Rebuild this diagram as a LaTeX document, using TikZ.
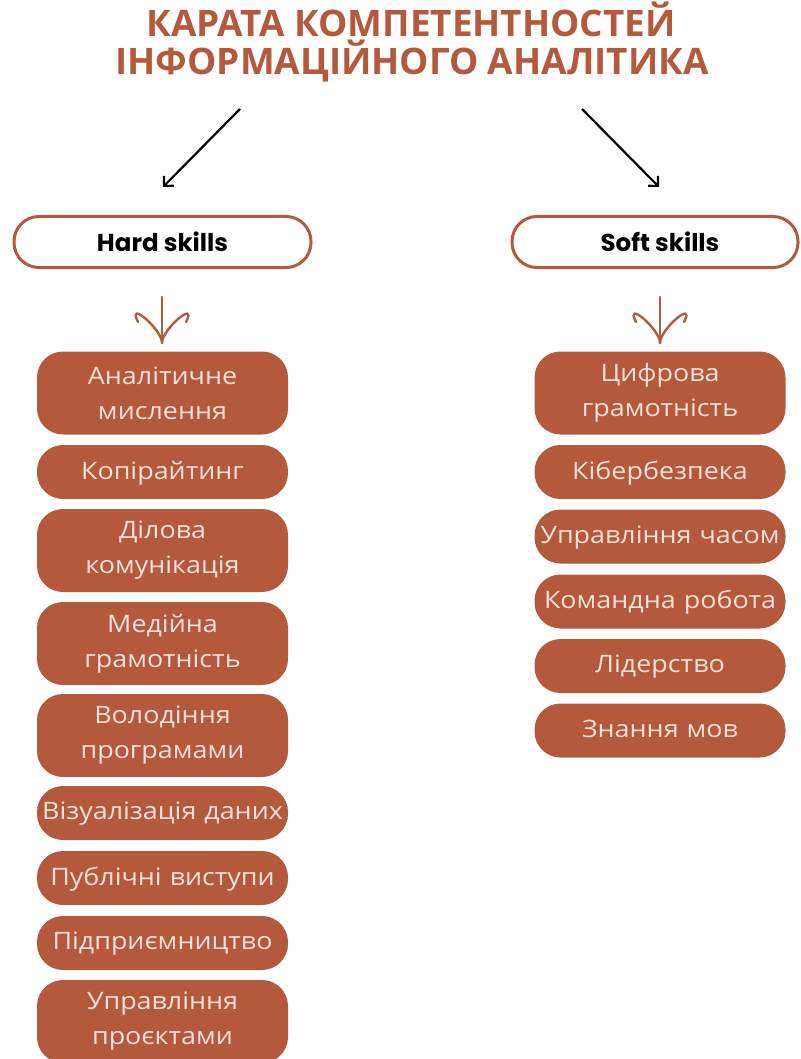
\documentclass[tikz,border=0pt]{standalone}
\usepackage{fontspec}
\setmainfont{Open Sans}
\newfontfamily\popfont{Poppins}
\newfontfamily\boxfont[FakeStretch=1.12]{Open Sans}
\newfontfamily\titlefont[FakeStretch=1.01]{Open Sans}
\usetikzlibrary{arrows.meta}
\definecolor{brick}{HTML}{B4593B}
\definecolor{pale}{HTML}{F4E1D9}
\tikzset{
  skill/.style={fill=brick, text=pale, rounded corners=26pt, minimum width=251pt, text width=249pt, align=center, font=\boxfont\fontsize{24}{35}\selectfont, inner sep=0pt},
  one/.style={skill, minimum height=54pt, text depth=4pt},
  two/.style={skill, minimum height=83pt},
  cat/.style={draw=brick, line width=3pt, rounded corners=25pt, minimum height=51pt, font=\popfont\bfseries\fontsize{24.5}{28}\selectfont},
  bigarrow/.style={line width=2.2pt, -{Straight Barb[length=7pt,width=14pt,line width=2.2pt]}},
  downarrow/.style={draw=brick, line width=2.4pt, line cap=round},
  ttl/.style={text=brick, font=\titlefont\bfseries\fontsize{36.5}{40}\selectfont, anchor=base, inner sep=0pt}
}
\begin{document}
\begin{tikzpicture}[x=1pt,y=-1pt]
\useasboundingbox (0,0) rectangle (800,1059);
\clip (0,0) rectangle (800,1059);
% title
\node[ttl] (t1) at (411,37) {КАРАТА КОМПЕТЕНТНОСТЕЙ};
\node[ttl] (t2) at (412,75) {ІНФОРМАЦІЙНОГО АНАЛІТИКА};
% arrow ends
\coordinate (la) at (240,109);
\coordinate (lb) at (163,187);
\coordinate (ra) at (582,109);
\coordinate (rb) at (659,187);
\draw[bigarrow] (la) -- (lb);
\draw[bigarrow] (ra) -- (rb);
% categories
\node[cat, minimum width=297pt] (hard) at (162.5,242) {Hard skills};
\node[cat, minimum width=286pt] (soft) at (655,242) {\hspace*{10pt}Soft skills};
% down arrows
\coordinate (ht) at (162,343);
\coordinate (st) at (660,343);
\foreach \c in {ht,st}{
  \draw[downarrow] (\c) ++(0,-46) -- (\c);
  \draw[downarrow] (\c) .. controls +(0,-14) and +(-12,-23) .. +(-24,-21);
  \draw[downarrow] (\c) .. controls +(0,-14) and +(12,-23) .. +(24,-21);
}
% hard skills
\node[two] (h1) at (162.5,393) {Аналітичне\\мислення};
\node[one] (h2) at (162.5,472) {Копірайтинг};
\node[two] (h3) at (162.5,550.5) {Ділова\\комунікація};
\node[two] (h4) at (162.5,643.5) {Медійна\\грамотність};
\node[two] (h5) at (162.5,735.5) {Володіння\\програмами};
\node[one] (h6) at (162.5,813) {Візуалізація даних};
\node[one] (h7) at (162.5,878) {Публічні виступи};
\node[one] (h8) at (162.5,943) {Підприємництво};
\node[two] (h9) at (162.5,1021.5) {Управління\\проєктами};
% soft skills
\node[two] (s1) at (660,393) {Цифрова\\грамотність};
\node[one] (s2) at (660,472) {Кібербезпека};
\node[one] (s3) at (660,536.5) {Управління часом};
\node[one] (s4) at (660,601.5) {Командна робота};
\node[one] (s5) at (660,666) {Лідерство};
\node[one] (s6) at (660,730.5) {Знання мов};
\end{tikzpicture}
\end{document}
